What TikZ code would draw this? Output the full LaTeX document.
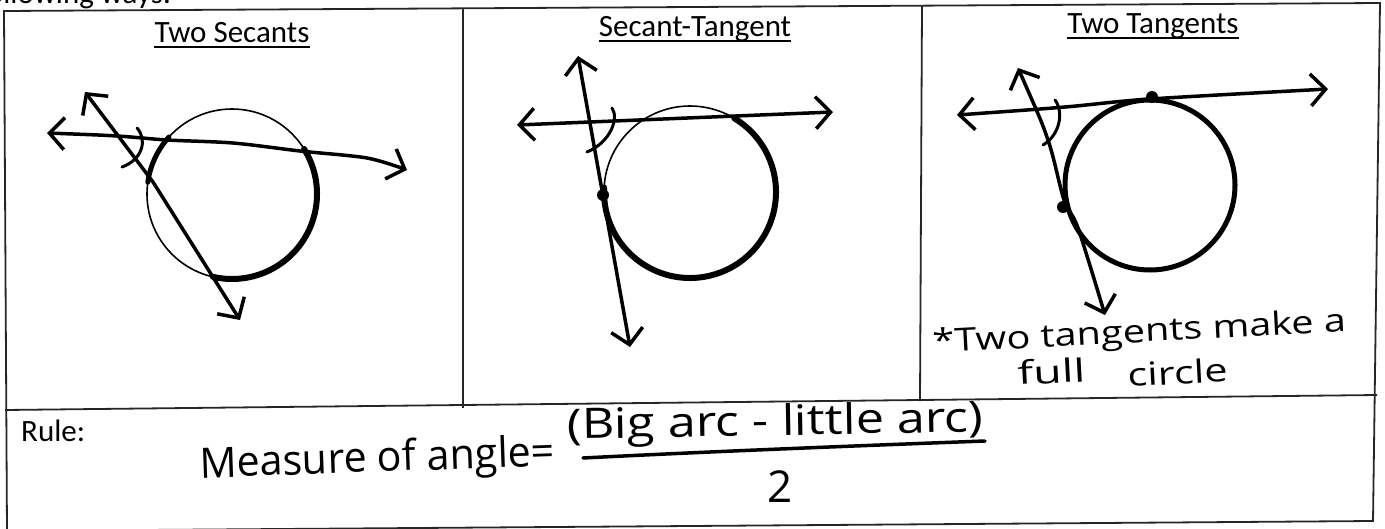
\documentclass[tikz,border=0pt]{standalone}
\usepackage{fontspec}
\setmainfont{Carlito}
\newfontfamily\hand{Open Sans}
\usetikzlibrary{arrows.meta}
\begin{document}
\begin{tikzpicture}[x=1pt,y=-1pt,
  frame/.style={line width=1.8pt, draw=black!85},
  pen/.style={line width=3.5pt, line cap=round, line join=round},
  thinpen/.style={line width=1.6pt},
  heavy/.style={line width=6pt, line cap=round},
  tipped/.style={{Straight Barb[length=15pt,width=32pt]}-{Straight Barb[length=15pt,width=32pt]}},
  dotmark/.style={fill=black, circle, inner sep=0pt, minimum size=12pt},
  header/.style={font=\fontsize{31}{36}\selectfont, inner sep=0pt, anchor=base},
  uline/.style={line width=1.6pt},
  angmark/.style={line width=3pt, line cap=round},
  tantext/.style={font=\hand\fontsize{32}{36}\selectfont, inner sep=0pt, anchor=base west, rotate=3},
  formula/.style={font=\hand\fontsize{42}{46}\selectfont, inner sep=0pt, anchor=base west}
]
\useasboundingbox (0,0) rectangle (1385,528);

% cut-off line above the table
\node[header, anchor=base west] (above) at (-22,3) {following ways:};

% table frame
\coordinate (TL) at (4,11);
\coordinate (TR) at (1380,3);
\coordinate (BR) at (1373,521);
\coordinate (BL) at (7,531);
\coordinate (RL) at (5,410);
\coordinate (RR) at (1377,395);
\coordinate (C1T) at (463,9);
\coordinate (C1B) at (463,408);
\coordinate (C2T) at (922,6);
\coordinate (C2B) at (920,401);
\draw[frame] (TL) -- (TR) -- (BR) -- (BL) -- cycle;
\draw[frame] (RL) -- (RR);
\draw[frame] (C1T) -- (C1B);
\draw[frame] (C2T) -- (C2B);

% headers
\node[header] (h1) at (232,42) {Two Secants};
\draw[uline] ([yshift=-5pt]h1.base west) -- ([yshift=-5pt]h1.base east);
\node[header] (h2) at (695,36) {Secant-Tangent};
\draw[uline] ([yshift=-5pt]h2.base west) -- ([yshift=-5pt]h2.base east);
\node[header] (h3) at (1153,33) {Two Tangents};
\draw[uline] ([yshift=-5pt]h3.base west) -- ([yshift=-5pt]h3.base east);

% ---------- panel 1: two secants ----------
\coordinate (c1) at (232,194);
\draw[thinpen] (c1) circle[radius=85];
\draw[heavy] (c1) ++(-32:85) arc[start angle=-32, end angle=103, radius=85];
\draw[heavy, line width=5pt] (c1) ++(188:85) arc[start angle=188, end angle=222, radius=85];
\draw[pen, tipped] plot[smooth] coordinates {(47,133) (117,136) (167,140) (233,143) (300,151) (367,158) (407,170)};
\draw[pen, tipped] (85,92) -- (153,182) -- (240,320);
\draw[angmark] (137,128) .. controls (148,140) and (142,160) .. (122,167);

% ---------- panel 2: secant-tangent ----------
\coordinate (c2) at (690,192);
\draw[thinpen] (c2) circle[radius=86];
\draw[heavy] (c2) ++(-59:86) arc[start angle=-59, end angle=183, radius=86];
\draw[pen, tipped] (517,125) -- (833,112);
\draw[pen, tipped] (578,56) -- (630,347);
\node[dotmark] (t2) at (603,195) {};
\draw[angmark] (612,108) .. controls (619,118) and (611,142) .. (587,152);

% ---------- panel 3: two tangents ----------
\coordinate (c3) at (1150,185);
\draw[heavy, line width=5pt] (c3) circle[radius=85];
\draw[pen, tipped] plot[smooth] coordinates {(957,115) (1065,107) (1150,99) (1328,89)};
\draw[pen, tipped] plot[smooth] coordinates {(1018,68) (1048,140) (1064,200) (1078,228) (1105,315)};
\node[dotmark] (t3a) at (1152,97) {};
\node[dotmark] (t3b) at (1063,207) {};
\draw[angmark] (1055,100) .. controls (1064,112) and (1060,135) .. (1043,145);

\node[tantext] (note1) at (933,353) {\scalebox{1.24}[1]{*Two tangents make a}};
\node[tantext] (note2) at (1018,385) {\scalebox{1.45}[1]{full}};
\node[tantext] (note3) at (1128,387) {\scalebox{1.3}[1]{circle}};

% ---------- rule row ----------
\node[header, anchor=base west] (rule) at (21,441) {Rule:};
\node[formula, rotate=2] (lhs) at (200,478) {\scalebox{0.98}[1]{Measure of angle=}};
\node[formula, rotate=1] (num) at (567,439) {\scalebox{1.2}[1]{(Big arc - little arc)}};
\draw[pen] (583,458) .. controls (700,452) and (850,446) .. (985,441);
\node[formula, anchor=base, font=\hand\fontsize{44}{48}\selectfont] (den) at (780,502) {2};
\end{tikzpicture}
\end{document}
